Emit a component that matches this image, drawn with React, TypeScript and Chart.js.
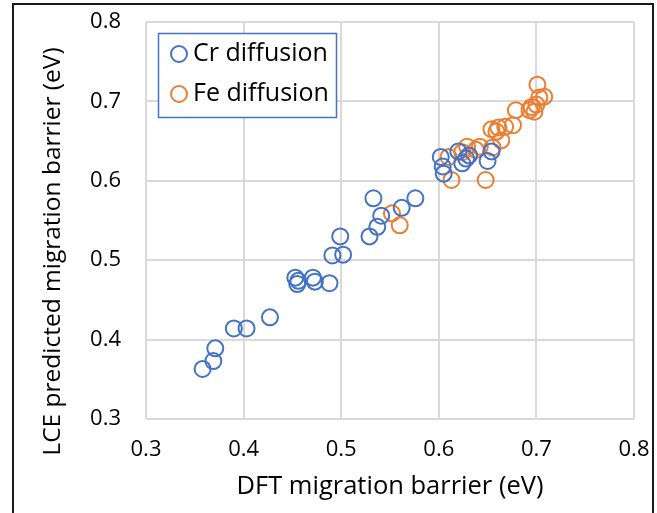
import { useEffect, useRef } from "react";
import { Chart, registerables } from "chart.js";

Chart.register(...registerables);

// Cr diffusion barriers: DFT (x) vs. LCE prediction (y), in eV
const crX = [
  0.358, 0.369, 0.371, 0.390, 0.403, 0.427,
  0.453, 0.456, 0.455, 0.471, 0.473, 0.488,
  0.491, 0.502, 0.499, 0.529, 0.537, 0.541, 0.533, 0.562, 0.576,
  0.602, 0.604, 0.605, 0.620, 0.624, 0.628, 0.631, 0.650, 0.654,
];
const crY = [
  0.363, 0.373, 0.389, 0.414, 0.414, 0.428,
  0.478, 0.474, 0.470, 0.478, 0.473, 0.471,
  0.506, 0.507, 0.530, 0.530, 0.542, 0.556, 0.578, 0.566, 0.578,
  0.630, 0.618, 0.609, 0.637, 0.622, 0.628, 0.632, 0.625, 0.637,
];

// Fe diffusion barriers
const feX = [
  0.552, 0.560, 0.610, 0.613, 0.648, 0.624, 0.629, 0.638, 0.642, 0.655,
  0.664, 0.654, 0.659, 0.661, 0.668, 0.676, 0.679, 0.693, 0.695, 0.698,
  0.700, 0.703, 0.708, 0.701,
];
const feY = [
  0.559, 0.544, 0.630, 0.601, 0.601, 0.636, 0.643, 0.639, 0.643, 0.642,
  0.651, 0.665, 0.662, 0.667, 0.668, 0.670, 0.689, 0.689, 0.693, 0.687,
  0.696, 0.705, 0.706, 0.721,
];

const seriesNames = ["Cr diffusion", "Fe diffusion"];
const seriesColors = ["#4472C4", "#ED7D31"];
const axisMin = 0.3;
const axisMax = 0.8;
const axisStep = 0.1;
const xTitle = "DFT migration barrier (eV)";
const yTitle = "LCE predicted migration barrier (eV)";

const FONT = "'Open Sans', sans-serif";

const toPoints = (xs: number[], ys: number[]) => xs.map((x, i) => ({ x, y: ys[i] }));

// Draws the white page, outer frame, axis titles and the boxed legend.
const decorPlugin = {
  id: "decor",
  beforeDraw(chart: any) {
    const ctx = chart.ctx;
    ctx.save();
    ctx.fillStyle = "#ffffff";
    ctx.fillRect(0, 0, chart.width, chart.height);
    ctx.restore();
  },
  afterDraw(chart: any) {
    const ctx = chart.ctx;
    const area = chart.chartArea;
    ctx.save();

    // outer frame (open at the bottom)
    ctx.strokeStyle = "#1a1a1a";
    ctx.lineWidth = 2;
    ctx.beginPath();
    ctx.moveTo(13, chart.height);
    ctx.lineTo(13, 4);
    ctx.lineTo(653, 4);
    ctx.lineTo(653, chart.height);
    ctx.stroke();

    // axis titles
    ctx.fillStyle = "#000000";
    ctx.textAlign = "center";
    ctx.textBaseline = "middle";
    ctx.font = `25.5px ${FONT}`;
    ctx.fillText(xTitle, (area.left + area.right) / 2, 487);
    ctx.save();
    ctx.translate(53, 251.5);
    ctx.rotate(-Math.PI / 2);
    ctx.font = `24.5px ${FONT}`;
    ctx.fillText(yTitle, 0, 0);
    ctx.restore();

    // legend box
    const bx = 158.5, by = 33.5, bw = 178, bh = 84;
    ctx.fillStyle = "#ffffff";
    ctx.fillRect(bx, by, bw, bh);
    ctx.strokeStyle = "#4472C4";
    ctx.lineWidth = 1.5;
    ctx.strokeRect(bx, by, bw, bh);

    chart.data.datasets.forEach((ds: any, i: number) => {
      const cy = 54 + i * 40;
      ctx.beginPath();
      ctx.arc(179, cy, 8, 0, Math.PI * 2);
      ctx.strokeStyle = ds.borderColor;
      ctx.lineWidth = 2;
      ctx.stroke();
      ctx.fillStyle = "#000000";
      ctx.font = `25px ${FONT}`;
      ctx.textAlign = "left";
      ctx.textBaseline = "middle";
      ctx.fillText(ds.label, 193, cy);
    });

    ctx.restore();
  },
};

export default function App() {
  const canvasRef = useRef<HTMLCanvasElement | null>(null);

  useEffect(() => {
    const canvas = canvasRef.current;
    if (!canvas) return;

    const axisCommon = {
      type: "linear" as const,
      min: axisMin,
      max: axisMax,
      border: { display: false },
      grid: { color: "#d9d9d9", lineWidth: 2, drawTicks: false },
    };

    const chart = new Chart(canvas, {
      type: "scatter",
      data: {
        datasets: [
          {
            label: seriesNames[0],
            data: toPoints(crX, crY),
            borderColor: seriesColors[0],
            backgroundColor: "rgba(0,0,0,0)",
            pointRadius: 8,
            pointBorderWidth: 2,
            pointHoverRadius: 8,
          },
          {
            label: seriesNames[1],
            data: toPoints(feX, feY),
            borderColor: seriesColors[1],
            backgroundColor: "rgba(0,0,0,0)",
            pointRadius: 8,
            pointBorderWidth: 2,
            pointHoverRadius: 8,
          },
        ],
      },
      options: {
        responsive: false,
        animation: false,
        events: [],
        layout: { padding: { left: 0, right: 23, top: 22, bottom: 0 } },
        plugins: {
          legend: { display: false },
          tooltip: { enabled: false },
          title: { display: false },
        },
        scales: {
          x: {
            ...axisCommon,
            position: "bottom",
            ticks: {
              stepSize: axisStep,
              padding: 18,
              color: "#000000",
              font: { family: FONT, size: 22 },
              callback: (v: any) => Number(v).toFixed(1),
            },
            afterFit: (scale: any) => {
              scale.height = 94;
              scale.paddingLeft = 0;
              scale.paddingRight = 0;
            },
          },
          y: {
            ...axisCommon,
            position: "left",
            ticks: {
              stepSize: axisStep,
              padding: 25,
              color: "#000000",
              font: { family: FONT, size: 22 },
              callback: (v: any) => Number(v).toFixed(1),
            },
            afterFit: (scale: any) => {
              scale.width = 146;
              scale.paddingTop = 0;
              scale.paddingBottom = 0;
            },
          },
        },
      },
      plugins: [decorPlugin],
    });

    return () => chart.destroy();
  }, []);

  return (
    <div style={{ position: "fixed", left: 0, top: 0, width: 657, height: 513, background: "#fff" }}>
      <canvas ref={canvasRef} width={657} height={513} style={{ display: "block" }} />
    </div>
  );
}
